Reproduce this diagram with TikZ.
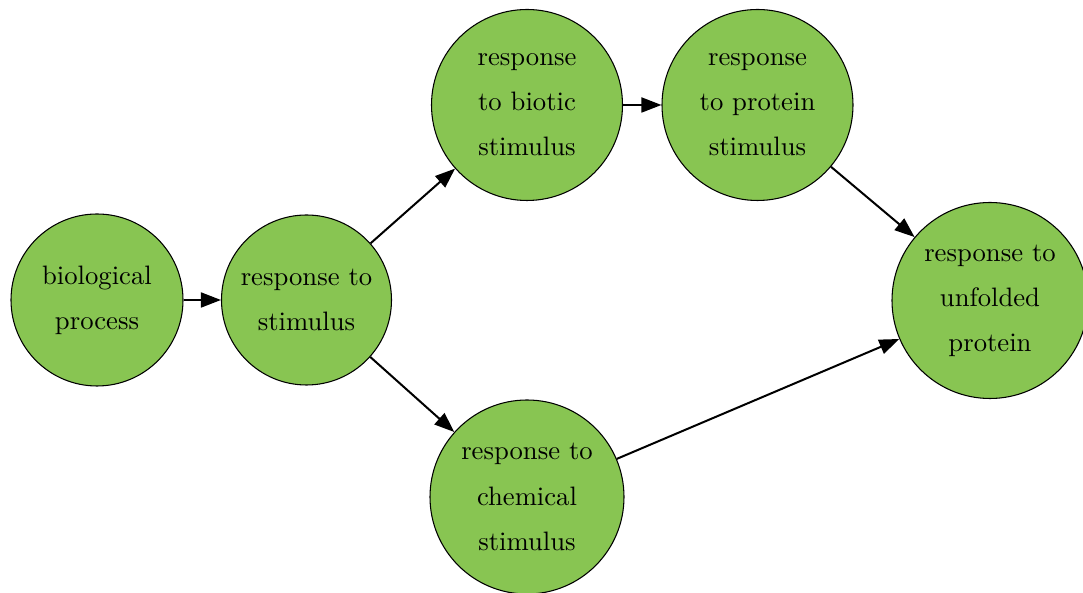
\documentclass[tikz,border=0pt]{standalone}
\usetikzlibrary{arrows.meta}
\definecolor{nodegreen}{RGB}{136,197,82}
\begin{document}
\begin{tikzpicture}[x=0.375pt,y=-0.375pt,
  term/.style={circle,draw=black,line width=0.4pt,fill=nodegreen,inner sep=0pt,
    align=center,font=\fontsize{10}{16.9}\selectfont},
  edge/.style={line width=0.75pt,-{Triangle[length=7.5pt,width=5.6pt]}}]
\useasboundingbox (0,0) rectangle (1083,593);
\node[term,minimum size=172*0.375pt] (bp) at (97,300) {biological\\process};
\node[term,minimum size=170*0.375pt] (rs) at (306.5,300) {response to\\stimulus};
\node[term,minimum size=191*0.375pt] (rb) at (527,105) {response\\to biotic\\stimulus};
\node[term,minimum size=191*0.375pt] (rp) at (757.5,105) {response\\to protein\\stimulus};
\node[term,minimum size=196*0.375pt] (ru) at (990,300.5) {response to\\unfolded\\protein};
\node[term,minimum size=194*0.375pt] (rc) at (527,497) {response to\\chemical\\stimulus};
\draw[edge] (bp) -- (rs);
\draw[edge] (rs) -- (rb);
\draw[edge] (rs) -- (rc);
\draw[edge] (rb) -- (rp);
\draw[edge] (rp) -- (ru);
\draw[edge] (rc) -- (ru);
\end{tikzpicture}
\end{document}
